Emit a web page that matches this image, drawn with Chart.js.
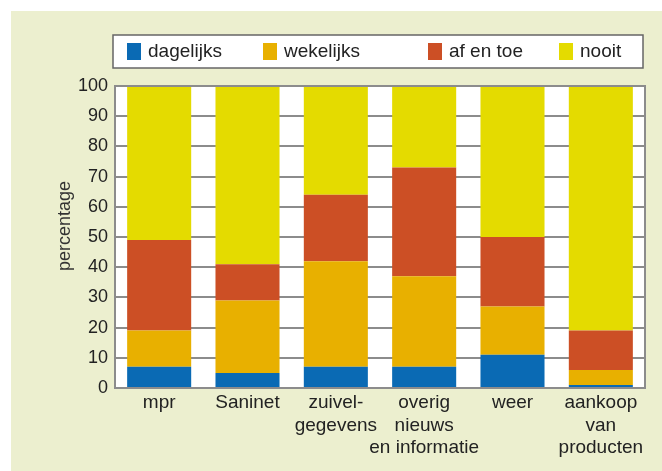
<!DOCTYPE html>
<html>
<head>
<meta charset="utf-8">
<script src="https://cdn.jsdelivr.net/npm/chart.js@4"></script>
<style>
  html, body { margin: 0; padding: 0; background: #ffffff; }
  #wrap { width: 662px; height: 471px; }
</style>
</head>
<body>
<div id="wrap"><canvas id="chart" width="662" height="471"></canvas></div>
<script>
// categories (multi-line labels)
const categories = [
    ['mpr'],
    ['Saninet'],
    ['zuivel-', 'gegevens'],
    ['overig', 'nieuws', 'en informatie'],
    ['weer'],
    ['aankoop', 'van', 'producten']
];

// series, in percent
const dagelijks = [7, 5, 7, 7, 11, 1];
const wekelijks = [12, 24, 35, 30, 16, 5];
const afEnToe   = [30, 12, 22, 36, 23, 13];
const nooit     = [51, 59, 36, 27, 50, 81];

const seriesNames = ['dagelijks', 'wekelijks', 'af en toe', 'nooit'];
const seriesColors = ['#0a6ab4', '#e8b000', '#cc4f25', '#e4db00'];

const yTicks = { min: 0, max: 100, step: 10 };
const yTitle = 'percentage';

const FONT = "'Liberation Sans', Arial, sans-serif";
const GRID = '#8c8c8c';

// #### Plugins
const backdrop = {
    id: 'backdrop',
    beforeDraw(chart) {
        const ctx = chart.ctx;
        const a = chart.chartArea;
        ctx.save();
        ctx.fillStyle = '#ecefcf';
        ctx.fillRect(11, 11, chart.width - 11, chart.height - 11);
        ctx.fillStyle = '#ffffff';
        ctx.fillRect(a.left, a.top, a.right - a.left, a.bottom - a.top);
        ctx.restore();
    },
    afterDatasetsDraw(chart) {
        const ctx = chart.ctx;
        const a = chart.chartArea;
        ctx.save();
        ctx.strokeStyle = GRID;
        ctx.lineWidth = 2;
        ctx.strokeRect(a.left, a.top, a.right - a.left, a.bottom - a.top);
        // y axis title, sits a bit above the middle like the original
        ctx.translate(65, 226);
        ctx.rotate(-Math.PI / 2);
        ctx.font = '18px ' + FONT;
        ctx.fillStyle = '#333333';
        ctx.textAlign = 'center';
        ctx.textBaseline = 'middle';
        ctx.fillText(yTitle, 0, 0);
        ctx.restore();
    }
};

// legend drawn in its own box, item x positions as in the original
const legendBox = { x: 113, y: 35, w: 530, h: 33 };
const legendItemX = [127, 263, 428, 559];
const boxLegend = {
    id: 'boxLegend',
    afterDraw(chart) {
        const ctx = chart.ctx;
        ctx.save();
        ctx.fillStyle = '#ffffff';
        ctx.fillRect(legendBox.x, legendBox.y, legendBox.w, legendBox.h);
        ctx.strokeStyle = '#666666';
        ctx.lineWidth = 1.5;
        ctx.strokeRect(legendBox.x, legendBox.y, legendBox.w, legendBox.h);
        ctx.font = '19px ' + FONT;
        ctx.textBaseline = 'middle';
        chart.data.datasets.forEach((ds, i) => {
            const x = legendItemX[i];
            ctx.fillStyle = ds.backgroundColor;
            ctx.fillRect(x, 43, 14, 17);
            ctx.fillStyle = '#222222';
            ctx.fillText(ds.label, x + 21, 52);
        });
        ctx.restore();
    }
};

// #### Chart
const series = [dagelijks, wekelijks, afEnToe, nooit];

new Chart(document.getElementById('chart'), {
    type: 'bar',
    data: {
        labels: categories,
        datasets: series.map((values, i) => ({
            label: seriesNames[i],
            data: values,
            backgroundColor: seriesColors[i],
            borderWidth: 0,
            categoryPercentage: 1,
            barPercentage: 0.725
        }))
    },
    options: {
        responsive: false,
        animation: false,
        layout: { padding: { top: 86, right: 17, bottom: 0, left: 0 } },
        plugins: {
            legend: { display: false },
            tooltip: { enabled: false }
        },
        scales: {
            x: {
                stacked: true,
                grid: { display: false },
                border: { display: true, color: GRID, width: 2 },
                ticks: {
                    color: '#222222',
                    font: { family: FONT, size: 19, lineHeight: 1.18 },
                    padding: -4,
                    maxRotation: 0,
                    autoSkip: false
                },
                afterFit(scale) { scale.height = 83; }
            },
            y: {
                stacked: true,
                min: yTicks.min,
                max: yTicks.max,
                grid: { color: GRID, lineWidth: 2, drawTicks: false },
                border: { display: true, color: GRID, width: 2 },
                ticks: {
                    stepSize: yTicks.step,
                    color: '#222222',
                    font: { family: FONT, size: 18 },
                    padding: 7
                },
                afterFit(scale) { scale.width = 115; }
            }
        }
    },
    plugins: [backdrop, boxLegend]
});
</script>
</body>
</html>
